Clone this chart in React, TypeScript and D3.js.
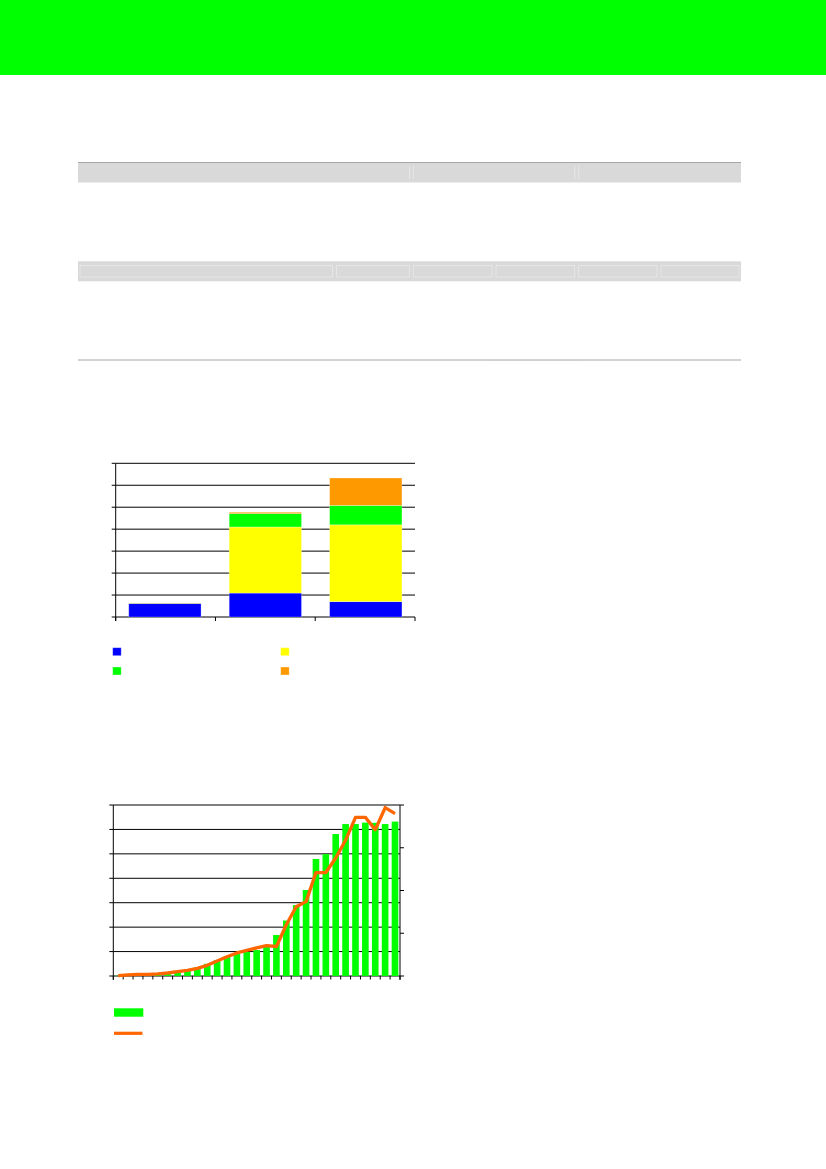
import * as d3 from 'd3'

// chart 1: stacked columns (no labels in the source)
const STACK_CATEGORIES = ['c1', 'c2', 'c3']
const STACK_KEYS = ['blue', 'yellow', 'green', 'orange'] as const
const BLUE_VALUES = [6.2, 10.9, 7.0]
const YELLOW_VALUES = [0.2, 30.1, 35.0]
const GREEN_VALUES = [0, 6.1, 8.8]
const ORANGE_VALUES = [0, 0.6, 12.5]
const STACK_TICKS = [0, 10, 20, 30, 40, 50, 60, 70]

// chart 2: columns (left axis) + line (right axis)
const SERIES_INDEX = d3.range(29).map(String)
const COLUMN_VALUES = [
  0.1, 0.1, 0.2, 0.3, 0.5, 0.8, 1.4, 2.2, 3.5, 5.0, 6.5, 8.0, 9.0, 9.8, 10.6,
  12.0, 16.8, 22.7, 29.0, 35.2, 47.9, 49.9, 58.1, 62.2, 62.2, 62.8, 62.7, 62.2, 63.2,
]
const LINE_VALUES = [
  1, 2.5, 4, 4, 5, 7, 10, 13, 18, 25, 35, 45, 54, 60, 66, 71, 69, 120, 162, 174,
  242, 242, 276, 318, 371, 371, 342, 394, 380,
]
const LEFT_TICKS = [0, 10, 20, 30, 40, 50, 60, 70]
const RIGHT_TICKS = [0, 100, 200, 300, 400]

const COLORS = {
  blue: '#0000ff',
  yellow: '#ffff00',
  green: '#00ff00',
  orange: '#ff9900',
}

function TableBands() {
  const left = 78
  const right = 741
  const band2Cells = [78, 334.5, 411.3, 494, 576.7, 659, 741]
  return (
    <g>
      <rect x={left} y={162} width={right - left} height={20.5} fill="#d9d9d9" />
      <line x1={left} x2={right} y1={162.5} y2={162.5} stroke="#a6a6a6" strokeWidth={1} />
      {[409.5, 413.3, 574.8, 578.7].map((x) => (
        <line key={x} x1={x} x2={x} y1={166} y2={179} stroke="#ebebeb" strokeWidth={0.8} />
      ))}
      <rect x={left} y={261.3} width={right - left} height={20} fill="#d9d9d9" />
      {band2Cells.slice(0, -1).map((x0, i) => (
        <rect
          key={x0}
          x={x0 + 2}
          y={265.5}
          width={band2Cells[i + 1] - x0 - 4}
          height={11.5}
          fill="none"
          stroke="#e9e9e9"
          strokeWidth={0.8}
        />
      ))}
      <line x1={left} x2={right} y1={360} y2={360} stroke="#a6a6a6" strokeWidth={1} />
      <line x1={493.5} x2={576.5} y1={360.5} y2={360.5} stroke="#d0d0d0" strokeWidth={1} />
    </g>
  )
}

function StackedChart() {
  const x0 = 115.7
  const x1 = 415
  const yBottom = 617
  const yTop = 463.3

  const x = d3
    .scaleBand<string>()
    .domain(STACK_CATEGORIES)
    .range([x0, x1])
    .paddingInner(0.28)
    .paddingOuter(0.13)
  const y = d3.scaleLinear().domain([0, 70]).range([yBottom, yTop])

  const rows = STACK_CATEGORIES.map((c, i) => ({
    category: c,
    blue: BLUE_VALUES[i],
    yellow: YELLOW_VALUES[i],
    green: GREEN_VALUES[i],
    orange: ORANGE_VALUES[i],
  }))
  const series = d3.stack<(typeof rows)[number]>().keys(STACK_KEYS as unknown as string[])(rows)
  const step = (x1 - x0) / STACK_CATEGORIES.length

  const legend = [
    { key: 'blue', x: 112.7, y: 647.7 },
    { key: 'yellow', x: 280.7, y: 647.7 },
    { key: 'green', x: 112.7, y: 667 },
    { key: 'orange', x: 280.7, y: 667 },
  ]

  return (
    <g>
      {STACK_TICKS.map((t) => (
        <g key={t}>
          <line x1={x0} x2={x1} y1={y(t)} y2={y(t)} stroke="#000" strokeWidth={1} />
          <line x1={x0 - 4} x2={x0} y1={y(t)} y2={y(t)} stroke="#000" strokeWidth={1} />
        </g>
      ))}
      {d3.range(STACK_CATEGORIES.length + 1).map((i) => (
        <line
          key={i}
          x1={x0 + i * step}
          x2={x0 + i * step}
          y1={yBottom}
          y2={yBottom + 4}
          stroke="#000"
          strokeWidth={1}
        />
      ))}
      {series.map((s) =>
        s.map((d) => {
          const h = y(d[0]) - y(d[1])
          if (h <= 0) return null
          return (
            <rect
              key={s.key + d.data.category}
              x={x(d.data.category)}
              y={y(d[1])}
              width={x.bandwidth()}
              height={h}
              fill={COLORS[s.key as keyof typeof COLORS]}
              stroke="#ffffff"
              strokeOpacity={0.35}
              strokeWidth={0.8}
            />
          )
        }),
      )}
      <line x1={x0} x2={x0} y1={yTop} y2={yBottom + 4} stroke="#000" strokeWidth={1} />
      {legend.map((l) => (
        <rect
          key={l.key}
          x={l.x}
          y={l.y}
          width={8.5}
          height={8}
          fill={COLORS[l.key as keyof typeof COLORS]}
          stroke="#ffffff"
          strokeOpacity={0.4}
          strokeWidth={0.8}
        />
      ))}
    </g>
  )
}

function ComboChart() {
  const x0 = 113.3
  const x1 = 400
  const yBottom = 976
  const yTop = 805

  const x = d3
    .scaleBand<string>()
    .domain(SERIES_INDEX)
    .range([x0, x1])
    .paddingInner(0.33)
    .paddingOuter(0.17)
  const yLeft = d3.scaleLinear().domain([0, 70]).range([yBottom, yTop])
  const yRight = d3.scaleLinear().domain([0, 400]).range([yBottom, yTop])
  const step = (x1 - x0) / SERIES_INDEX.length

  const line = d3
    .line<number>()
    .x((_, i) => x0 + (i + 0.5) * step)
    .y((v) => yRight(v))

  return (
    <g>
      {LEFT_TICKS.map((t) => (
        <g key={t}>
          <line x1={x0} x2={x1} y1={yLeft(t)} y2={yLeft(t)} stroke="#000" strokeWidth={1} />
          <line x1={x0 - 4} x2={x0} y1={yLeft(t)} y2={yLeft(t)} stroke="#000" strokeWidth={1} />
        </g>
      ))}
      {RIGHT_TICKS.map((t) => (
        <line key={t} x1={x1} x2={x1 + 4} y1={yRight(t)} y2={yRight(t)} stroke="#000" strokeWidth={1} />
      ))}
      {d3.range(SERIES_INDEX.length + 1).map((i) => (
        <line
          key={i}
          x1={x0 + i * step}
          x2={x0 + i * step}
          y1={yBottom}
          y2={yBottom + 3.5}
          stroke="#000"
          strokeWidth={1}
        />
      ))}
      {COLUMN_VALUES.map((v, i) => (
        <rect
          key={i}
          x={x(SERIES_INDEX[i])}
          y={yLeft(v)}
          width={x.bandwidth()}
          height={yBottom - yLeft(v)}
          fill={COLORS.green}
        />
      ))}
      <line x1={x0} x2={x0} y1={yTop} y2={yBottom + 4} stroke="#000" strokeWidth={1} />
      <line x1={x1} x2={x1} y1={yTop} y2={yBottom + 4} stroke="#000" strokeWidth={1} />
      <path
        d={line(LINE_VALUES) ?? ''}
        fill="none"
        stroke="#ff6600"
        strokeWidth={3.3}
        strokeLinejoin="round"
      />
      <rect x={114} y={1008.3} width={29.3} height={8.4} fill={COLORS.green} />
      <line x1={114} x2={142.5} y1={1033.3} y2={1033.3} stroke="#ff6600" strokeWidth={3.2} />
    </g>
  )
}

export default function App() {
  return (
    <svg
      width={826}
      height={1169}
      viewBox="0 0 826 1169"
      style={{ position: 'absolute', left: 0, top: 0, display: 'block', background: '#ffffff' }}
    >
      <rect x={0} y={0} width={826} height={1169} fill="#ffffff" />
      <rect x={0} y={0} width={826} height={75} fill="#00ff00" />
      <TableBands />
      <StackedChart />
      <ComboChart />
    </svg>
  )
}
